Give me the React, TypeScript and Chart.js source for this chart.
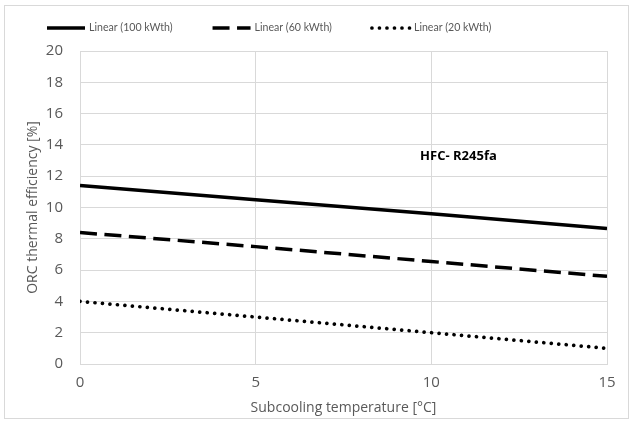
import { useEffect, useRef } from "react";
import { Chart, registerables } from "chart.js";

Chart.register(...registerables);

// Subcooling temperature [°C] and ORC thermal efficiency [%] for three plant sizes
const subcoolingTemps = [0, 5, 10, 15];
const eff100kWth = [11.4, 10.5, 9.6, 8.65];
const eff60kWth = [8.4, 7.5, 6.55, 5.6];
const eff20kWth = [4.0, 3.0, 2.0, 1.0];
const seriesLabels = ["Linear (100 kWth)", "Linear (60 kWth)", "Linear (20 kWth)"];

const refrigerantLabel = "HFC- R245fa";
const refrigerantLabelAt = { x: 9.68, y: 13.3 };

const TEXT = "#595959";
const GRID = "#d9d9d9";
const FONT = "'Open Sans', 'Noto Sans', sans-serif";
const LEGEND_FONT = "Lato, 'Open Sans', sans-serif";

// Legend row across the top, drawn from the datasets' own line styles
const topLegend = {
  id: "topLegend",
  afterDraw(chart: any) {
    const ctx = chart.ctx as CanvasRenderingContext2D;
    ctx.save();
    ctx.font = `10.6px ${LEGEND_FONT}`;
    ctx.textBaseline = "middle";
    ctx.textAlign = "left";
    let x = 42;
    const y = 22;
    const lineLen = 38;
    chart.data.datasets.forEach((ds: any) => {
      ctx.beginPath();
      ctx.setLineDash(ds.borderDash || []);
      ctx.lineWidth = ds.borderWidth;
      ctx.lineCap = ds.borderCapStyle || "butt";
      ctx.strokeStyle = ds.borderColor;
      ctx.moveTo(x, y);
      ctx.lineTo(x + lineLen, y);
      ctx.stroke();
      ctx.setLineDash([]);
      x += lineLen + 4;
      ctx.fillStyle = TEXT;
      ctx.fillText(ds.label, x, y);
      x += ctx.measureText(ds.label).width + 40;
    });
    ctx.restore();
  },
};

// Refrigerant name inside the plot
const refrigerantTag = {
  id: "refrigerantTag",
  afterDatasetsDraw(chart: any) {
    const ctx = chart.ctx as CanvasRenderingContext2D;
    const px = chart.scales.x.getPixelForValue(refrigerantLabelAt.x);
    const py = chart.scales.y.getPixelForValue(refrigerantLabelAt.y);
    ctx.save();
    ctx.font = `bold 13px ${FONT}`;
    ctx.fillStyle = "#000";
    ctx.textAlign = "left";
    ctx.textBaseline = "middle";
    ctx.fillText(refrigerantLabel, px, py);
    ctx.restore();
  },
};

const toPoints = (ys: number[]) => subcoolingTemps.map((t, i) => ({ x: t, y: ys[i] }));

export default function App() {
  const canvasRef = useRef<HTMLCanvasElement>(null);

  useEffect(() => {
    if (!canvasRef.current) return;
    const chart = new Chart(canvasRef.current, {
      type: "line",
      data: {
        datasets: [
          {
            label: seriesLabels[0],
            data: toPoints(eff100kWth),
            borderColor: "#000",
            borderWidth: 3.5,
            borderCapStyle: "butt",
            pointRadius: 0,
          },
          {
            label: seriesLabels[1],
            data: toPoints(eff60kWth),
            borderColor: "#000",
            borderWidth: 3.5,
            borderDash: [17, 7.5],
            borderCapStyle: "butt",
            pointRadius: 0,
          },
          {
            label: seriesLabels[2],
            data: toPoints(eff20kWth),
            borderColor: "#000",
            borderWidth: 3.7,
            borderDash: [0.01, 7.5],
            borderCapStyle: "round",
            pointRadius: 0,
          },
        ],
      },
      options: {
        responsive: false,
        animation: false,
        layout: { padding: { left: 2, right: 21, top: 45, bottom: 2 } },
        plugins: {
          legend: { display: false },
          tooltip: { enabled: false },
        },
        scales: {
          x: {
            type: "linear",
            min: 0,
            max: 15,
            ticks: { stepSize: 5, color: TEXT, font: { family: FONT, size: 15 }, padding: 10 },
            grid: { color: GRID, drawTicks: false },
            border: { color: GRID },
            title: {
              display: true,
              text: "Subcooling temperature [°C]",
              color: TEXT,
              font: { family: FONT, size: 14 },
              padding: 0,
            },
            afterFit(scale: any) {
              scale.height = 52;
            },
          },
          y: {
            min: 0,
            max: 20,
            ticks: { stepSize: 2, color: TEXT, font: { family: FONT, size: 15 }, padding: 17 },
            grid: { color: GRID, drawTicks: false },
            border: { color: GRID },
            title: {
              display: true,
              text: "ORC thermal efficiency [%]",
              color: TEXT,
              font: { family: FONT, size: 14 },
              padding: { top: 18, bottom: 0 },
            },
            afterFit(scale: any) {
              scale.width = 73;
            },
          },
        },
      },
      plugins: [topLegend, refrigerantTag],
    });
    return () => chart.destroy();
  }, []);

  return (
    <div
      style={{
        position: "absolute",
        left: 4,
        top: 5,
        width: 625,
        height: 414,
        border: `1px solid ${GRID}`,
        boxSizing: "border-box",
        background: "#fff",
      }}
    >
      <canvas ref={canvasRef} width={623} height={412} style={{ display: "block" }} />
    </div>
  );
}
